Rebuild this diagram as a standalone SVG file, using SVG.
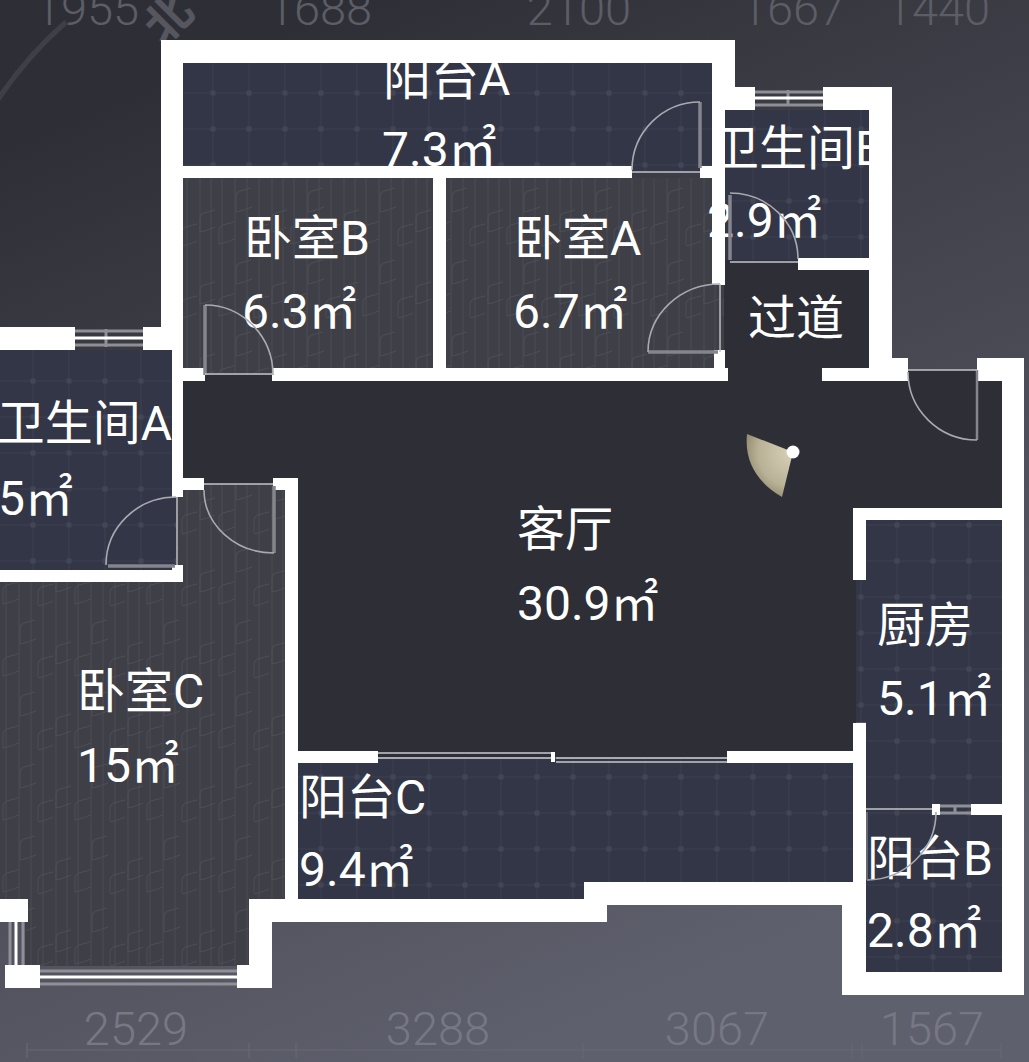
<svg xmlns="http://www.w3.org/2000/svg" width="1029" height="1062" viewBox="0 0 1029 1062">
<style>
.wall{fill:#fff}
.tile{fill:url(#tile)}
.wood{fill:url(#wood)}
.dark{fill:#2d2e36}
.t{font-family:"Roboto","Noto Sans CJK SC",sans-serif;font-weight:400;font-size:48px;fill:#fff}
.dimt{font-family:"Roboto","Noto Sans CJK SC",sans-serif;font-weight:300;font-size:47px;fill:#5c5d65;text-anchor:middle}
.dimb{font-family:"Roboto","Noto Sans CJK SC",sans-serif;font-weight:300;font-size:47px;fill:#767884;text-anchor:middle}
.leaf{fill:none;stroke:#85868d;stroke-width:3.5}
.arc{fill:none;stroke:#a9aab0;stroke-width:1.6}
.sill{fill:none;stroke:#c4c5ca;stroke-width:1.4}
.wm{fill:none;stroke:#fff;stroke-width:3}
.ws{fill:none;stroke:#8f9096;stroke-width:3}
.dl{fill:none;stroke:#666873;stroke-width:1.2}
</style>
<defs>
<linearGradient id="bg" gradientUnits="userSpaceOnUse" x1="100" y1="100" x2="500" y2="1062">
<stop offset="0" stop-color="#2e2f36"/><stop offset="1" stop-color="#5f606d"/>
</linearGradient>
<pattern id="tile" patternUnits="userSpaceOnUse" x="15" y="3" width="36" height="36">
<rect width="36" height="36" fill="#323646"/>
<path d="M18 0V36M0 18H36" stroke="#3b4051" stroke-width="1" fill="none"/>
<rect x="15.5" y="15.5" width="5" height="5" rx="1" fill="#424757"/>
</pattern>
<pattern id="wood" patternUnits="userSpaceOnUse" x="0" y="180" width="72" height="72">
<rect width="72" height="72" fill="#3f3f47"/>
<path d="M6 0V72M19 0V72M31 0V72M43 0V72M56 0V72M67 0V72" stroke="#4a4a52" stroke-width="1" fill="none"/>
<path d="M20 32V16Q20 12 24 11L35 8M20 32Q26 31 36 27M3 64V50Q3 46 7 45L18 42M3 64Q9 63 19 59M56 52V38Q56 34 60 33L71 30M56 52Q62 51 71 47M38 66V52Q38 48 42 47L53 44M38 66Q44 65 53 61" stroke="#4d4d55" stroke-width="1" fill="none"/>
</pattern>
<radialGradient id="fan" gradientUnits="userSpaceOnUse" cx="793" cy="452" r="64">
<stop offset="0" stop-color="#d8d2ba"/><stop offset=".55" stop-color="#b9b196"/><stop offset="1" stop-color="#6a644b"/>
</radialGradient>
</defs>

<rect id="background" width="1029" height="1062" fill="url(#bg)"/>

<g id="compass">
<path d="M-5 104Q25 58 66 22" fill="none" stroke="#3f4046" stroke-width="5"/>
<text class="dimt" style="font-family:'Noto Sans CJK SC',sans-serif;font-weight:700;font-size:46px;fill:#55565e" transform="translate(180 30) rotate(-45)">北</text>
</g>

<g id="dimensions-top">
<text class="dimt" x="87" y="25">1955</text>
<text class="dimt" x="320" y="25">1688</text>
<text class="dimt" x="579" y="25">2100</text>
<text class="dimt" x="793" y="25">1667</text>
<text class="dimt" x="938" y="25">1440</text>
</g>
<g id="dimensions-bottom">
<path class="dl" d="M27 1050H1001M27 1043V1058M249 1043V1058M296 1043V1058M583 1043V1058M852 1043V1058M862 1043V1058M1001 1043V1058"/>
<text class="dimb" x="136" y="1045">2529</text>
<text class="dimb" x="438" y="1045">3288</text>
<text class="dimb" x="717" y="1045">3067</text>
<text class="dimb" x="932" y="1045">1567</text>
</g>

<g id="floors">
<path id="living-floor" class="dark" d="M183 375H728V381H1002V508H856V757H298V478H273V484H204V478H183ZM724 260H869V381H724ZM908 370H977V381H908Z"/>
<rect class="tile" x="183" y="63" width="529" height="103"/>
<rect class="tile" x="632" y="166" width="68" height="7"/>
<rect class="tile" x="725" y="110" width="144" height="150"/>
<rect class="tile" x="0" y="350" width="176" height="220"/>
<path class="tile" d="M866 520H1002V805H866V722H856V580H866Z"/>
<path class="tile" d="M298 759H853V882H584V899H298Z"/>
<rect class="tile" x="866" y="805" width="136" height="167"/>
<rect class="wood" x="183" y="178" width="250" height="197"/>
<path class="wood" d="M446 178H712V285H724V370H446Z"/>
<path class="wood" d="M177 484H285V899H249V966H25V922H0V582H177Z"/>
</g>

<g id="labels">
<g id="room-balcony-a"><text class="t" x="383" y="95">阳台A</text><text class="t" x="382" y="166">7.3㎡</text></g>
<g id="room-bedroom-b"><text class="t" x="244" y="255">卧室B</text><text class="t" x="242" y="328">6.3㎡</text></g>
<g id="room-bedroom-a"><text class="t" x="514" y="255">卧室A</text><text class="t" x="513" y="328">6.7㎡</text></g>
<g id="room-bath-b"><text class="t" x="711" y="165">卫生间B</text><text class="t" x="707" y="237">2.9㎡</text></g>
<g id="room-passage"><text class="t" x="748" y="335">过道</text></g>
<g id="room-bath-a"><text class="t" x="172" y="440" text-anchor="end">卫生间A</text><text class="t" x="-2" y="515">5㎡</text></g>
<g id="room-living"><text class="t" x="517" y="546">客厅</text><text class="t" x="517" y="620">30.9㎡</text></g>
<g id="room-kitchen"><text class="t" x="877" y="642">厨房</text><text class="t" x="877" y="715">5.1㎡</text></g>
<g id="room-bedroom-c"><text class="t" x="77" y="708">卧室C</text><text class="t" x="77" y="782">15㎡</text></g>
<g id="room-balcony-c"><text class="t" x="299" y="814">阳台C</text><text class="t" x="299" y="886">9.4㎡</text></g>
<g id="room-balcony-b"><text class="t" x="867" y="875">阳台B</text><text class="t" x="867" y="947">2.8㎡</text></g>
</g>

<g id="walls" class="wall">
<rect x="161" y="40" width="574" height="23"/>
<rect x="161" y="40" width="22" height="310"/>
<rect x="712" y="40" width="23" height="70"/>
<rect x="712" y="87" width="43" height="23"/>
<rect x="712" y="110" width="13" height="175"/>
<rect x="183" y="166" width="449" height="12"/>
<rect x="700" y="166" width="24" height="12"/>
<rect x="433" y="178" width="13" height="190"/>
<rect x="183" y="368" width="22" height="13"/>
<rect x="272" y="368" width="456" height="13"/>
<rect x="714" y="350" width="11" height="18"/>
<rect x="823" y="87" width="69" height="23"/>
<rect x="869" y="87" width="23" height="294"/>
<rect x="798" y="258" width="71" height="12"/>
<rect x="822" y="368" width="86" height="13"/>
<rect x="892" y="358" width="16" height="23"/>
<rect x="977" y="358" width="47" height="23"/>
<rect x="1002" y="358" width="22" height="637"/>
<rect x="842" y="972" width="182" height="23"/>
<rect x="842" y="903" width="24" height="92"/>
<rect x="853" y="723" width="13" height="182"/>
<rect x="853" y="508" width="149" height="12"/>
<rect x="853" y="508" width="13" height="72"/>
<rect x="971" y="804" width="31" height="11"/>
<rect x="584" y="882" width="282" height="23"/>
<rect x="272" y="899" width="335" height="23"/>
<rect x="285" y="478" width="13" height="432"/>
<rect x="273" y="478" width="25" height="12"/>
<rect x="298" y="751" width="80" height="12"/>
<rect x="727" y="751" width="126" height="12"/>
<rect x="249" y="899" width="23" height="89"/>
<rect x="237" y="965" width="35" height="23"/>
<rect x="5" y="965" width="35" height="23"/>
<rect x="0" y="899" width="28" height="23"/>
<rect x="0" y="327" width="75" height="23"/>
<rect x="143" y="327" width="40" height="23"/>
<rect x="172" y="327" width="11" height="170"/>
<rect x="183" y="478" width="21" height="12"/>
<rect x="172" y="565" width="11" height="17"/>
<rect x="0" y="570" width="183" height="12"/>
<rect x="932" y="804" width="8" height="11"/>
</g>

<g id="windows">
<g id="window-bath-a"><path class="ws" d="M75 331H143M75 345H143M106 329V347"/><path class="wm" d="M75 338H143"/></g>
<g id="window-bath-b"><path class="ws" d="M755 92H823M755 105H823M788 90V106"/><path class="wm" d="M755 98H823"/></g>
<g id="window-bedroom-c-bottom"><path class="ws" d="M40 971H237M40 984H237"/><path class="wm" d="M40 977H237"/></g>
<g id="window-bedroom-c-left"><path class="ws" d="M10 922V965M23 922V965"/><path class="wm" d="M16 922V965"/></g>
<g id="window-balcony-b"><path class="ws" stroke-width="2" d="M940 806H971M940 813H971M955 805V814"/></g>
<g id="sliding-door"><path class="ws" style="stroke:#c8c9cd;stroke-width:1.6" d="M378 753H553M378 758H553"/><path class="wm" style="stroke-width:4" d="M553 752V762"/><path class="ws" style="stroke:#c8c9cd;stroke-width:1.6" d="M556 758H727M556 762H727"/></g>
</g>

<g id="doors">
<g id="door-balcony-a"><path class="leaf" d="M700 102V168"/><path class="arc" d="M700 102A68 68 0 0 0 632 170"/><path class="sill" d="M632 172H700"/></g>
<g id="door-bedroom-b"><path class="leaf" d="M205 305V375"/><path class="arc" d="M205 305A68 70 0 0 1 273 375"/><path class="sill" d="M205 374H272"/></g>
<g id="door-bedroom-a"><path class="leaf" d="M648 352H718"/><path class="arc" d="M720 284A72 68 0 0 0 648 352"/><path class="sill" d="M720 284V352"/></g>
<g id="door-bath-b"><path class="leaf" d="M730 195V260"/><path class="arc" d="M730 193A68 66 0 0 1 798 259"/><path class="sill" d="M730 262H798"/></g>
<g id="door-entrance"><path class="leaf" style="stroke-width:2.5" d="M977 370V440"/><path class="arc" d="M908 372A69 68 0 0 0 977 440"/><path class="sill" d="M908 370H977"/></g>
<g id="door-bath-a"><path class="leaf" d="M108 566H175"/><path class="arc" d="M176 497A70 68 0 0 0 106 565"/><path class="sill" d="M177 497V565"/></g>
<g id="door-bedroom-c"><path class="leaf" d="M274 486V553"/><path class="arc" d="M204 490A70 63 0 0 0 274 553"/><path class="sill" d="M204 484H273"/></g>
<g id="door-balcony-b"><path class="arc" d="M936 812A70 68 0 0 1 867 880"/><path class="sill" d="M866 809H932"/><path class="sill" style="stroke:#7b7c84" d="M867 812V880"/></g>
</g>

<g id="camera">
<path d="M793 452L747 434Q743 474 782 497Z" fill="url(#fan)"/>
<circle cx="793" cy="452" r="6.5" fill="#fff"/>
</g>
</svg>
